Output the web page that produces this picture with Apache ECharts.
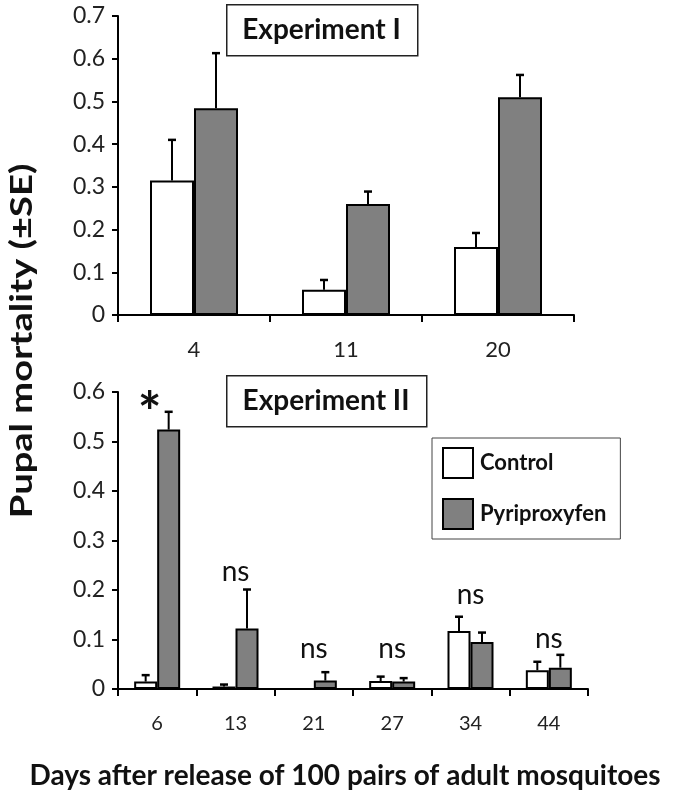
<!DOCTYPE html>
<html>
<head>
<meta charset="utf-8">
<script src="https://cdn.jsdelivr.net/npm/echarts@6/dist/echarts.min.js"></script>
<style>
html,body{margin:0;padding:0;background:#fff;}
#chart{width:685px;height:795px;}
</style>
</head>
<body>
<div id="chart"></div>
<script>
// ---- Data ----
const topCategories = ['4', '11', '20'];
const topControl = [0.315, 0.059, 0.159];
const topControlSE = [0.095, 0.023, 0.033];
const topPyriproxyfen = [0.484, 0.260, 0.510];
const topPyriproxyfenSE = [0.129, 0.029, 0.052];

const bottomCategories = ['6', '13', '21', '27', '34', '44'];
const bottomControl = [0.015, 0.005, 0.000, 0.016, 0.117, 0.038];
const bottomControlSE = [0.013, 0.004, 0.000, 0.009, 0.029, 0.017];
const bottomPyriproxyfen = [0.524, 0.122, 0.017, 0.015, 0.095, 0.043];
const bottomPyriproxyfenSE = [0.036, 0.079, 0.017, 0.007, 0.019, 0.026];

const bottomAnnotations = ['*', 'ns', 'ns', 'ns', 'ns', 'ns'];
const bottomAnnotationY = [0.583, 0.237, 0.080, 0.080, 0.190, 0.102];

const topYTicks = [0, 0.1, 0.2, 0.3, 0.4, 0.5, 0.6, 0.7];
const bottomYTicks = [0, 0.1, 0.2, 0.3, 0.4, 0.5, 0.6];

// ---- Styles ----
const FONT = 'Lato, "Open Sans", sans-serif';
const TOP_BAR_W = 44;
const BOT_BAR_W = 23;

const chart = echarts.init(document.getElementById('chart'), null, {renderer: 'canvas'});

function errData(vals, se) {
  return vals.map((v, i) => [i, v, v + se[i]]);
}
function errorRender(offset) {
  return function (params, api) {
    const v = api.value(1), hi = api.value(2);
    if (hi - v <= 0) return null;
    const p0 = api.coord([api.value(0), v]);
    const p1 = api.coord([api.value(0), hi]);
    const x = p0[0] + offset;
    const cap = 4;
    return {
      type: 'group',
      children: [
        {type: 'line', shape: {x1: x, y1: p0[1], x2: x, y2: p1[1]}, style: {stroke: '#000', lineWidth: 2}},
        {type: 'line', shape: {x1: x - cap, y1: p1[1], x2: x + cap, y2: p1[1]}, style: {stroke: '#000', lineWidth: 2.5}}
      ]
    };
  };
}

function xAxisCommon(cats, gridIndex, fontSize, margin) {
  return {
    type: 'category', gridIndex: gridIndex, data: cats,
    axisLine: {lineStyle: {color: '#000', width: 2}},
    axisTick: {show: true, alignWithLabel: false, length: 7, lineStyle: {color: '#000', width: 2}},
    axisLabel: {color: '#222', fontFamily: FONT, fontSize: fontSize, margin: margin},
    splitLine: {show: false}
  };
}
function yAxisCommon(max, gridIndex) {
  return {
    type: 'value', gridIndex: gridIndex, min: 0, max: max, interval: 0.1,
    axisLine: {show: true, lineStyle: {color: '#000', width: 2}},
    axisTick: {show: true, length: 6, lineStyle: {color: '#000', width: 2}},
    axisLabel: {color: '#222', fontFamily: FONT, fontSize: 23, margin: 13,
      formatter: v => (Math.round(v * 10) / 10).toString()},
    splitLine: {show: false}
  };
}

const option = {
  backgroundColor: '#fff',
  animation: false,
  grid: [
    {left: 118, top: 16, width: 456, height: 299},
    {left: 118, top: 392, width: 470, height: 297}
  ],
  xAxis: [
    xAxisCommon(topCategories, 0, 22, 24),
    xAxisCommon(bottomCategories, 1, 20, 25)
  ],
  yAxis: [
    yAxisCommon(topYTicks[topYTicks.length - 1], 0),
    yAxisCommon(bottomYTicks[bottomYTicks.length - 1], 1)
  ],
  legend: {
    orient: 'vertical', left: 432, top: 438,
    padding: [9, 14, 9, 10],
    itemWidth: 30, itemHeight: 30, itemGap: 19,
    borderColor: '#444', borderWidth: 1, backgroundColor: '#fff',
    icon: 'rect',
    itemStyle: {borderColor: '#000', borderWidth: 2},
    textStyle: {fontFamily: FONT, fontWeight: 'bold', fontSize: 22, color: '#111', padding: [0, 0, 0, 2]},
    data: ['Control', 'Pyriproxyfen']
  },
  series: [
    {name: 'Control', type: 'bar', xAxisIndex: 0, yAxisIndex: 0, data: topControl,
      barWidth: TOP_BAR_W, barGap: '0%',
      itemStyle: {color: '#fff', borderColor: '#000', borderWidth: 2}},
    {name: 'Pyriproxyfen', type: 'bar', xAxisIndex: 0, yAxisIndex: 0, data: topPyriproxyfen,
      barWidth: TOP_BAR_W, barGap: '0%',
      itemStyle: {color: '#808080', borderColor: '#000', borderWidth: 2}},
    {type: 'custom', xAxisIndex: 0, yAxisIndex: 0, data: errData(topControl, topControlSE),
      renderItem: errorRender(-TOP_BAR_W / 2), z: 5},
    {type: 'custom', xAxisIndex: 0, yAxisIndex: 0, data: errData(topPyriproxyfen, topPyriproxyfenSE),
      renderItem: errorRender(TOP_BAR_W / 2), z: 5},

    {name: 'Control', type: 'bar', xAxisIndex: 1, yAxisIndex: 1, data: bottomControl,
      barWidth: BOT_BAR_W, barGap: '0%',
      itemStyle: {color: '#fff', borderColor: '#000', borderWidth: 2}},
    {name: 'Pyriproxyfen', type: 'bar', xAxisIndex: 1, yAxisIndex: 1, data: bottomPyriproxyfen,
      barWidth: BOT_BAR_W, barGap: '0%',
      itemStyle: {color: '#808080', borderColor: '#000', borderWidth: 2}},
    {type: 'custom', xAxisIndex: 1, yAxisIndex: 1, data: errData(bottomControl, bottomControlSE),
      renderItem: errorRender(-BOT_BAR_W / 2), z: 5},
    {type: 'custom', xAxisIndex: 1, yAxisIndex: 1, data: errData(bottomPyriproxyfen, bottomPyriproxyfenSE),
      renderItem: errorRender(BOT_BAR_W / 2), z: 5},
    {type: 'custom', xAxisIndex: 1, yAxisIndex: 1,
      data: bottomAnnotations.map((t, i) => [i, bottomAnnotationY[i], t]),
      renderItem: function (params, api) {
        const i = params.dataIndex;
        const txt = bottomAnnotations[i];
        const p = api.coord([api.value(0), api.value(1)]);
        const star = txt === '*';
        return {
          type: 'text',
          x: p[0] + (star ? -BOT_BAR_W / 2 + 4 : 0),
          y: p[1] + (star ? 14 : 0),
          style: {text: txt, fill: '#111', font: (star ? 'bold 56px ' : '28px ') + FONT,
            textAlign: 'center', textVerticalAlign: 'middle'}
        };
      }, z: 6}
  ],
  graphic: [
    {type: 'rect', left: 226, top: 4, shape: {width: 191, height: 51},
      style: {fill: '#fff', stroke: '#222', lineWidth: 1.5}},
    {type: 'text', x: 321.5, y: 30,
      style: {text: 'Experiment I', font: 'bold 28px ' + FONT, fill: '#111',
        textAlign: 'center', textVerticalAlign: 'middle'}},
    {type: 'rect', left: 226, top: 375, shape: {width: 200, height: 51},
      style: {fill: '#fff', stroke: '#222', lineWidth: 1.5}},
    {type: 'text', x: 326, y: 401,
      style: {text: 'Experiment II', font: 'bold 28px ' + FONT, fill: '#111',
        textAlign: 'center', textVerticalAlign: 'middle'}},
    {type: 'text', x: 345, y: 776,
      style: {text: 'Days after release of 100 pairs of adult mosquitoes', font: 'bold 28px ' + FONT,
        fill: '#111', textAlign: 'center', textVerticalAlign: 'middle'}},
    {type: 'text', x: 22, y: 341, rotation: Math.PI / 2, scaleX: 1.27,
      style: {text: 'Pupal mortality (\u00B1SE)', font: 'bold 30px ' + FONT,
        fill: '#111', textAlign: 'center', textVerticalAlign: 'middle'}}
  ]
};
chart.setOption(option);
</script>
</body>
</html>
